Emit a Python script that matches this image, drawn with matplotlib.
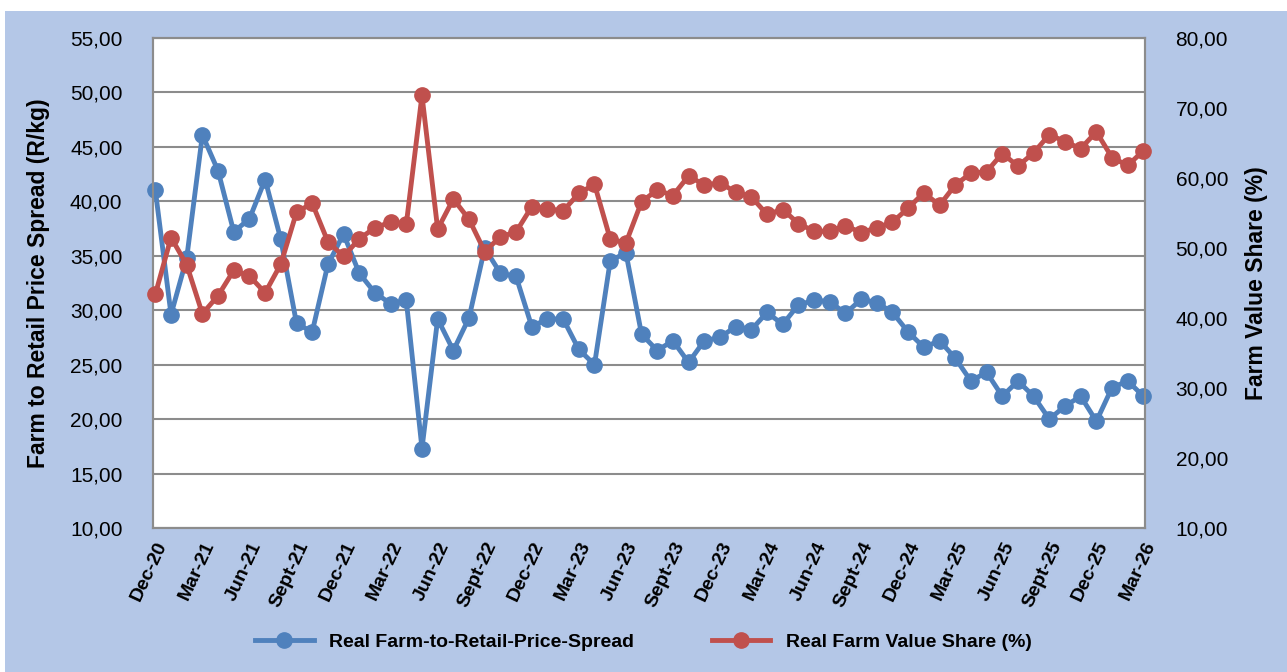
import numpy as np
import matplotlib.pyplot as plt
from matplotlib.patches import Rectangle
from matplotlib.ticker import FuncFormatter

plt.rcParams['font.family'] = ['Liberation Sans', 'DejaVu Sans']

# monthly series, Dec-20 .. Mar-26
months = ['Dec-20', 'Jan-21', 'Feb-21', 'Mar-21', 'Apr-21', 'May-21', 'Jun-21', 'Jul-21',
          'Aug-21', 'Sept-21', 'Oct-21', 'Nov-21', 'Dec-21', 'Jan-22', 'Feb-22', 'Mar-22',
          'Apr-22', 'May-22', 'Jun-22', 'Jul-22', 'Aug-22', 'Sept-22', 'Oct-22', 'Nov-22',
          'Dec-22', 'Jan-23', 'Feb-23', 'Mar-23', 'Apr-23', 'May-23', 'Jun-23', 'Jul-23',
          'Aug-23', 'Sept-23', 'Oct-23', 'Nov-23', 'Dec-23', 'Jan-24', 'Feb-24', 'Mar-24',
          'Apr-24', 'May-24', 'Jun-24', 'Jul-24', 'Aug-24', 'Sept-24', 'Oct-24', 'Nov-24',
          'Dec-24', 'Jan-25', 'Feb-25', 'Mar-25', 'Apr-25', 'May-25', 'Jun-25', 'Jul-25',
          'Aug-25', 'Sept-25', 'Oct-25', 'Nov-25', 'Dec-25', 'Jan-26', 'Feb-26', 'Mar-26']

spread = [41.0, 29.6, 34.8, 46.1, 42.8, 37.2, 38.4, 42.0, 36.5, 28.8, 28.0, 34.2,
          37.0, 33.4, 31.6, 30.6, 30.9, 17.3, 29.2, 26.3, 29.3, 35.7, 33.4, 33.1,
          28.5, 29.2, 29.2, 26.4, 25.0, 34.5, 35.3, 27.8, 26.3, 27.2, 25.2, 27.2,
          27.5, 28.5, 28.2, 29.8, 28.7, 30.5, 30.9, 30.8, 29.7, 31.0, 30.7, 29.8,
          28.0, 26.6, 27.2, 25.6, 23.5, 24.3, 22.1, 23.5, 22.1, 20.0, 21.2, 22.1,
          19.8, 22.9, 23.5, 22.1]

share = [43.4, 51.5, 47.6, 40.6, 43.2, 46.8, 46.0, 43.6, 47.7, 55.1, 56.4, 50.9,
         48.8, 51.3, 52.9, 53.7, 53.4, 71.8, 52.7, 57.0, 54.1, 49.5, 51.6, 52.3,
         55.9, 55.6, 55.3, 57.8, 59.1, 51.3, 50.7, 56.6, 58.3, 57.5, 60.3, 59.0,
         59.3, 58.0, 57.3, 54.8, 55.5, 53.5, 52.4, 52.4, 53.2, 52.2, 52.9, 53.7,
         55.7, 57.9, 56.1, 59.0, 60.7, 60.9, 63.5, 61.7, 63.6, 66.2, 65.2, 64.2,
         66.6, 62.9, 61.8, 63.9]

blue = '#4F81BD'
red = '#C0504D'
grid_col = '#8C8C8C'
comma = FuncFormatter(lambda v, p: f'{v:.2f}'.replace('.', ','))

fig = plt.figure(figsize=(12.87, 6.72), dpi=100, facecolor='white')
# light blue chart area with a thin white margin top/left
fig.patches.append(Rectangle((5 / 1287, 0), 1, 1 - 11 / 672, transform=fig.transFigure,
                             facecolor='#B4C7E7', edgecolor='none', zorder=-10))

ax = fig.add_axes([153 / 1287, 1 - 528 / 672, 992 / 1287, 490 / 672])
ax2 = ax.twinx()

x = np.arange(len(months))
l1, = ax.plot(x, spread, color=blue, lw=3.5, marker='o', ms=11, zorder=3, clip_on=False,
              label='Real Farm-to-Retail-Price-Spread')
l2, = ax2.plot(x, share, color=red, lw=3.5, marker='o', ms=11, zorder=3, clip_on=False,
               label='Real Farm Value Share (%)')

ax.set_xlim(-0.15, len(months) - 0.9)
ax.set_ylim(10, 55)
ax.set_yticks(np.arange(10, 56, 5))
ax2.set_ylim(10, 80)
ax2.set_yticks(np.arange(10, 81, 10))
ax.yaxis.set_major_formatter(comma)
ax2.yaxis.set_major_formatter(comma)

ax.set_xticks(x[::3])
ax.set_xticklabels(months[::3], rotation=65, ha='right', rotation_mode='anchor',
                   fontsize=14, fontweight='bold')
ax.grid(axis='y', color=grid_col, lw=1.5)
ax.set_axisbelow(True)
ax.tick_params(axis='x', length=0, pad=8)
ax.tick_params(axis='y', length=0, labelsize=15, pad=22)
ax2.tick_params(axis='y', length=0, labelsize=15, pad=22)

for a in (ax, ax2):
    for s in a.spines.values():
        s.set_color(grid_col)
        s.set_linewidth(1.5)

ax.set_ylabel('Farm to Retail Price Spread (R/kg)', fontsize=16.5, fontweight='bold', labelpad=14)
ax2.set_ylabel('Farm Value Share (%)', fontsize=16.5, fontweight='bold', rotation=90, labelpad=12)

fig.legend([l1, l2], [l1.get_label(), l2.get_label()], loc='center', ncol=2,
           bbox_to_anchor=(0.5, 1 - 642 / 672), frameon=False,
           prop={'size': 14, 'weight': 'bold'}, handlelength=3, columnspacing=4)

fig.savefig('out.png', dpi=100, facecolor=fig.get_facecolor())
